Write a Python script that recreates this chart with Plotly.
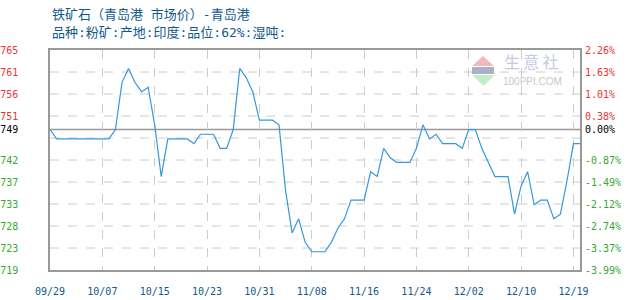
import plotly.graph_objects as go
import pandas as pd

# ---------------- data ----------------
all_days = pd.date_range("2023-09-29", "2023-12-20", freq="D")
dates = [d.strftime("%m/%d") for d in all_days if d.strftime("%m/%d") != "12/16"]

prices = [749, 747, 747, 747, 747, 747, 747, 747, 747, 747,
          749, 759, 762, 759, 757, 758, 750, 739, 747, 747,
          747, 747, 746, 748, 748, 748, 745, 745, 749, 762,
          760, 757, 751, 751, 751, 750, 736, 727, 730, 725,
          723, 723, 723, 725, 728, 730, 734, 734, 734, 740,
          739, 745, 743, 742, 742, 742, 745, 750, 747, 748,
          746, 746, 746, 745, 749, 749, 745, 742, 739, 739,
          739, 731, 737, 740, 733, 734, 734, 730, 731, 738,
          746, 746]

base_price = 749
pct_top = 2.26
pct_bottom = -3.99

left_tick_labels = ["719", "723", "728", "733", "737", "742", "749", "751", "756", "761", "765"]
right_tick_labels = ["-3.99%", "-3.37%", "-2.74%", "-2.12%", "-1.49%", "-0.87%", "0.00%",
                     "0.38%", "1.01%", "1.63%", "2.26%"]
x_tick_labels = ["09/29", "10/07", "10/15", "10/23", "10/31", "11/08",
                 "11/16", "11/24", "12/02", "12/10", "12/19"]

title_text = "铁矿石（青岛港 市场价）-青岛港"
subtitle_text = "品种:粉矿:产地:印度:品位:62%:湿吨:"

# ---------------- derived scales ----------------
ymin = base_price * (1 + pct_bottom / 100)
ymax = base_price * (1 + pct_top / 100)
n_int = 10
grid_vals = [ymin + (ymax - ymin) * k / n_int for k in range(n_int + 1)]
grid_pct = [pct_bottom + (pct_top - pct_bottom) * k / n_int for k in range(n_int + 1)]

# label positions: grid lines except the one hidden by the base line, plus the base
tick_vals = grid_vals[:6] + [base_price] + grid_vals[7:]
tick_pct = grid_pct[:6] + [0.0] + grid_pct[7:]

RED = "#ee3333"
GREEN = "#33aa33"


def colored(lbl, val, base):
    if abs(val - base) < 1e-9:
        c = "#000000"
    elif val > base:
        c = RED
    else:
        c = GREEN
    return f"<span style='color:{c}'>{lbl}</span>"


left_text = [colored(l, v, base_price) for l, v in zip(left_tick_labels, tick_vals)]
right_text = [colored(l, v, 0.0) for l, v in zip(right_tick_labels, tick_pct)]

TXT = "#105a8c"
MONO = "DejaVu Sans Mono, Noto Sans CJK SC"

fig = go.Figure()
fig.add_trace(go.Scatter(x=dates, y=prices, mode="lines",
                         line=dict(color="#3399dd", width=1.2),
                         hoverinfo="skip", showlegend=False))
fig.add_trace(go.Scatter(x=dates, y=[(p - base_price) / base_price * 100 for p in prices],
                         mode="lines", line=dict(color="rgba(0,0,0,0)", width=0),
                         yaxis="y2", hoverinfo="skip", showlegend=False))

W, H = 630, 300
ml, mr, mt, mb = 50, 50, 50, 30

fig.update_layout(
    width=W, height=H,
    margin=dict(l=ml, r=mr, t=mt, b=mb),
    paper_bgcolor="white", plot_bgcolor="white",
    xaxis=dict(
        type="category",
        range=[0, len(dates) - 1],
        tickmode="array",
        tickvals=[dates[i] for i in range(0, len(dates), 8)],
        ticktext=x_tick_labels,
        showgrid=True, gridcolor="#cccccc", griddash="dash", gridwidth=1,
        showline=True, linecolor="#999999", linewidth=1.5, mirror=True,
        ticks="", ticklabelstandoff=11, automargin=False,
        tickfont=dict(family=MONO, size=10, color=TXT),
        zeroline=False, fixedrange=True,
    ),
    yaxis=dict(
        range=[ymin, ymax],
        tickmode="array", tickvals=tick_vals, ticktext=left_text,
        showgrid=False,
        showline=True, linecolor="#999999", linewidth=1.5, mirror=True,
        ticks="", ticklabelstandoff=28, automargin=False,
        tickfont=dict(family=MONO, size=10),
        zeroline=False, fixedrange=True,
    ),
    yaxis2=dict(
        range=[pct_bottom, pct_top], overlaying="y", side="right",
        tickmode="array", tickvals=tick_pct, ticktext=right_text,
        showgrid=False, showline=False, ticks="", ticklabelstandoff=4, automargin=False,
        tickfont=dict(family=MONO, size=10),
        zeroline=False, fixedrange=True,
    ),
)

pw = W - ml - mr
ph = H - mt - mb


def px(xp):
    return (xp - ml) / pw


def py(yp):
    return (H - mb - yp) / ph


shapes = []
# dashed horizontal grid lines
for g in grid_vals[1:-1]:
    shapes.append(dict(type="line", xref="paper", x0=0, x1=1, yref="y", y0=g, y1=g,
                       line=dict(color="#cccccc", width=1, dash="dash"), layer="below"))
# base line
shapes.append(dict(type="line", xref="paper", x0=0, x1=1, yref="y", y0=base_price, y1=base_price,
                   line=dict(color="#999999", width=1.5), layer="below"))

# watermark logo
shapes.append(dict(type="path", xref="paper", yref="paper",
                   path=f"M {px(472)} {py(66)} L {px(483)} {py(56)} L {px(494)} {py(66)} Z",
                   fillcolor="#f5b8b8", line=dict(width=0), layer="below"))
shapes.append(dict(type="rect", xref="paper", yref="paper",
                   x0=px(472), x1=px(494), y0=py(74), y1=py(67),
                   fillcolor="#a9b1c2", line=dict(width=0), layer="below"))
shapes.append(dict(type="path", xref="paper", yref="paper",
                   path=f"M {px(472)} {py(75)} L {px(495)} {py(75)} L {px(483.5)} {py(86)} Z",
                   fillcolor="#c4ecc8", line=dict(width=0), layer="below"))
fig.update_layout(shapes=shapes)

fig.add_annotation(xref="paper", yref="paper", x=px(50), y=py(14), xanchor="left", yanchor="middle",
                   text=title_text, showarrow=False,
                   font=dict(family=MONO, size=13, color=TXT))
fig.add_annotation(xref="paper", yref="paper", x=px(50), y=py(32), xanchor="left", yanchor="middle",
                   text=subtitle_text, showarrow=False,
                   font=dict(family=MONO, size=13, color=TXT))
fig.add_annotation(xref="paper", yref="paper", x=px(531), y=py(74), xanchor="center", yanchor="bottom",
                   text="生\u2009意\u2009社", showarrow=False, borderpad=0,
                   font=dict(family="Noto Sans CJK SC", size=16, color="#c5cbdf"))
fig.add_annotation(xref="paper", yref="paper", x=px(532), y=py(75), xanchor="center", yanchor="top",
                   text="100PPI.COM", showarrow=False, borderpad=0,
                   font=dict(family="Liberation Sans", size=10, color="#c8c8c8"))

fig.write_html("out.html")
